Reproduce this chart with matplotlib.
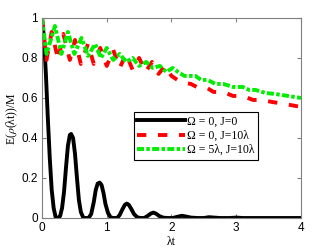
import numpy as np
import matplotlib
matplotlib.use('Agg')
import matplotlib.pyplot as plt

# values (lambda*t, E/M)
t_black = [0, 0.03, 0.06, 0.09, 0.12, 0.15, 0.18, 0.21, 0.25, 0.28,
           0.31, 0.34, 0.37, 0.40, 0.43, 0.45, 0.48, 0.51, 0.54, 0.57, 0.6, 0.64,
           0.72, 0.76, 0.8, 0.83, 0.86, 0.89, 0.92, 0.95, 0.98, 1.02, 1.06, 1.1,
           1.16, 1.2, 1.24, 1.28, 1.31, 1.34, 1.38, 1.42, 1.47, 1.52,
           1.58, 1.63, 1.68, 1.72, 1.76, 1.81, 1.87, 1.93,
           2.02, 2.09, 2.16, 2.23, 2.3, 2.4, 2.5, 2.58, 2.66, 2.75, 2.9, 3.0, 3.1, 3.3, 4.0]
e_black = [1.0, 0.9, 0.72, 0.5, 0.3, 0.14, 0.05, 0.005, 0.0, 0.01,
           0.05, 0.13, 0.25, 0.36, 0.415, 0.42, 0.40, 0.32, 0.2, 0.09, 0.03, 0.0,
           0.0, 0.02, 0.08, 0.14, 0.172, 0.177, 0.165, 0.125, 0.07, 0.025, 0.003, 0.0,
           0.0, 0.015, 0.042, 0.066, 0.072, 0.066, 0.045, 0.02, 0.004, 0.0,
           0.0, 0.01, 0.022, 0.027, 0.022, 0.01, 0.002, 0.0,
           0.0, 0.006, 0.011, 0.007, 0.002, 0.0, 0.0, 0.004, 0.002, 0.0, 0.0, 0.002, 0.0, 0.0, 0.0]

t_red = [0, 0.07, 0.15, 0.25, 0.33, 0.43, 0.51, 0.6, 0.71, 0.8, 0.9, 1.0, 1.1, 1.2,
         1.3, 1.4, 1.5, 1.6, 1.7, 1.8, 1.9, 2.0, 2.14, 2.3, 2.42, 2.55, 2.65, 2.8,
         2.95, 3.1, 3.26, 3.4, 3.55, 3.75, 4.0]
e_red = [1.0, 0.79, 0.93, 0.79, 0.92, 0.79, 0.89, 0.77, 0.87, 0.77, 0.85, 0.76, 0.84, 0.75,
         0.82, 0.74, 0.80, 0.73, 0.78, 0.72, 0.76, 0.71, 0.68, 0.67, 0.65, 0.65, 0.63, 0.63,
         0.61, 0.61, 0.59, 0.59, 0.58, 0.57, 0.555]

t_green = [0, 0.07, 0.2, 0.3, 0.4, 0.5, 0.61, 0.71, 0.82, 0.91, 1.0, 1.1, 1.2, 1.3,
           1.4, 1.5, 1.61, 1.71, 1.82, 1.92, 2.02, 2.1, 2.2, 2.37, 2.46, 2.56, 2.68,
           2.8, 2.95, 3.1, 3.2, 3.3, 3.45, 3.6, 3.8, 4.0]
e_green = [1.0, 0.82, 0.96, 0.82, 0.93, 0.82, 0.90, 0.81, 0.87, 0.80, 0.85, 0.79, 0.82, 0.78,
           0.80, 0.76, 0.78, 0.75, 0.76, 0.73, 0.75, 0.73, 0.71, 0.71, 0.69, 0.69, 0.67,
           0.67, 0.655, 0.655, 0.64, 0.64, 0.625, 0.62, 0.61, 0.60]

labels = ['Ω = 0, J=0', 'Ω = 0, J=10λ', 'Ω = 5λ, J=10λ']

plt.rcParams['mathtext.fontset'] = 'stix'

fig = plt.figure(figsize=(3.32, 2.49), dpi=100)
ax = fig.add_axes([0.1265, 0.1245, 0.78, 0.8035])

lw = 2.8
ax.plot(t_black, e_black, color='black', lw=lw, label=labels[0])
ax.plot(t_red, e_red, color='red', lw=lw, dashes=(2.4, 3.0), label=labels[1])
ax.plot(t_green, e_green, color='#00ee00', lw=lw, dashes=(1.8, 0.6, 0.9, 0.6), label=labels[2])

ax.set_xlim(0, 4)
ax.set_ylim(0, 1)
ax.set_xticks([0, 1, 2, 3, 4])
ax.set_yticks([0, 0.2, 0.4, 0.6, 0.8, 1])
ax.set_yticklabels(['0', '0.2', '0.4', '0.6', '0.8', '1'])
for s in ax.spines.values():
    s.set_color('#808080')
    s.set_linewidth(0.8)
ax.tick_params(direction='in', top=True, right=True, length=3, width=0.8,
               color='#808080', labelsize=8.5, pad=3)
for lab in ax.get_xticklabels() + ax.get_yticklabels():
    lab.set_family('Liberation Sans')

ax.set_xlabel('λt', family='Liberation Serif', fontsize=8.5, labelpad=1)
ax.set_ylabel(r'E($\rho$(λt))/M', family='Liberation Serif', fontsize=8.5, labelpad=1)

leg = ax.legend(loc='upper left', bbox_to_anchor=(0.355, 0.53), prop={'family': 'Liberation Serif', 'size': 8.5},
                handlelength=4.0, handletextpad=0.2, borderpad=0.3, labelspacing=0.2,
                fancybox=False, framealpha=1, borderaxespad=0)
leg.get_frame().set_edgecolor('black')
leg.get_frame().set_linewidth(0.8)

fig.savefig('out.png', dpi=100)
